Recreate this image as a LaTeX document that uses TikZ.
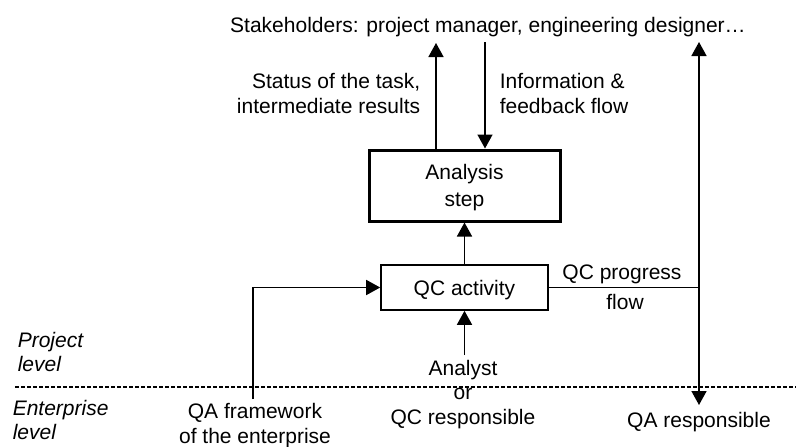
\documentclass[tikz,border=0pt]{standalone}
\usepackage{fontspec}
\setmainfont{Liberation Sans}
\usetikzlibrary{arrows.meta}
\begin{document}
\begin{tikzpicture}[x=1pt,y=-1pt,
  font=\fontsize{21}{25}\selectfont,
  line width=1.6pt,
  >={Triangle[width=15pt,length=14pt]},
  txt/.style={inner sep=0pt,text height=15pt,text depth=0pt},
  boxthick/.style={draw,line width=3pt,inner sep=0pt},
  boxthin/.style={draw,line width=1.6pt,inner sep=0pt,align=center,text height=15pt,text depth=0pt},
  leveltxt/.style={txt,align=left,anchor=west,font=\fontsize{21}{23.5}\selectfont\itshape},
  dashline/.style={dash pattern=on 4pt off 2pt,line width=1.3pt}]
\useasboundingbox (0,0) rectangle (796,447);

% texts
\node[txt] (stake) at (488,25) {Stakeholders: project manager, engineering designer…};
\node[txt,align=right,anchor=east] (status) at (421,106) {Status of the task,\\intermediate results};
\node[txt,align=left,anchor=west] (info) at (499,106) {Information \&\\feedback flow};
\node[txt] (prog) at (622,272) {QC progress};
\node[txt] (flow) at (625,302) {flow};
\node[txt,align=center,font=\fontsize{21}{24.5}\selectfont] (analyst) at (463,416.5) {Analyst\\or\\QC responsible};
\node[txt,align=center,font=\fontsize{21}{25.5}\selectfont] (qafw) at (255,436) {QA framework\\of the enterprise};
\node[txt] (qar) at (699,420) {QA responsible};
\node[leveltxt] (proj) at (17,363.5) {Project\\level};
\node[leveltxt] (ent) at (12,431.5) {Enterprise\\level};

% boxes
\node[boxthick,minimum width=191pt,minimum height=71pt] (ana) at (464.5,185.5) {};
\node[txt,align=center,font=\fontsize{21}{27}\selectfont] (anatxt) at (464.5,199) {Analysis\\step};
\node[boxthin,minimum width=167pt,minimum height=45pt] (qc) at (464.5,287.5) {QC activity};

% coordinates for free ends
\coordinate (upTip) at (436,43);
\coordinate (dnTop) at (485,42);
\coordinate (rTop) at (699,42);
\coordinate (rBot) at (699,405);
\coordinate (fwTop) at (253,399);
\coordinate (dL) at (15,387);
\coordinate (dR) at (796,387);

% connectors
\draw[->] (qc.north) -- (ana.south);
\draw[->] (ana.north -| upTip) -- (upTip);
\draw[->] (dnTop) -- (dnTop |- ana.north);
\draw[<->] (rTop) -- (rBot);
\draw (qc.east) -- (qc.east -| rTop);
\draw[->] (fwTop) |- (qc.west);
\draw[->] (qc.south |- 0,355) -- (qc.south);
\draw[dashline] (dL) -- (dR);
\end{tikzpicture}
\end{document}
